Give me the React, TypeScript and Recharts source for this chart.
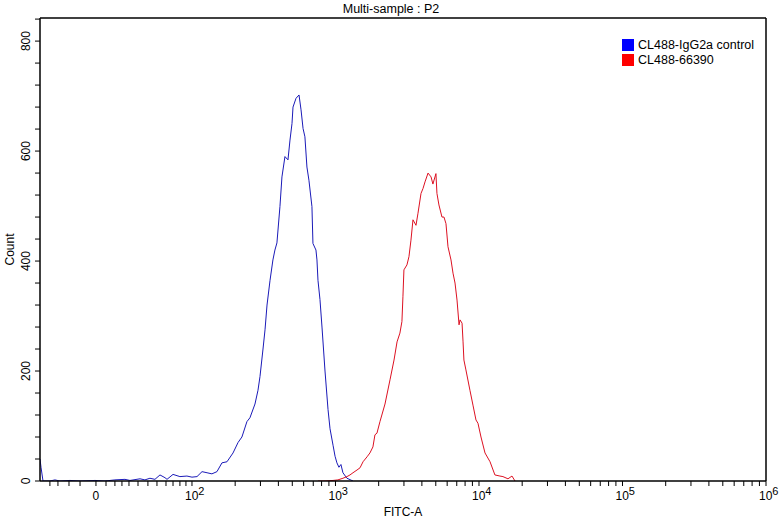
import React from 'react';
import { LineChart, Line, XAxis, YAxis } from 'recharts';

// FITC-A display positions in decade units (10^2 -> 2, 10^3 -> 3 ...); counts per bin
const blueX = [0.941, 0.948, 0.962, 1.010, 1.045, 1.080, 1.150, 1.220, 1.324, 1.394, 1.463, 1.533, 1.568, 1.638, 1.672, 1.707, 1.742, 1.777, 1.812, 1.826, 1.868, 1.916, 1.965, 2.000, 2.035, 2.070, 2.105, 2.139, 2.174, 2.209, 2.244, 2.286, 2.321, 2.348, 2.383, 2.404, 2.439, 2.460, 2.474, 2.495, 2.509, 2.523, 2.544, 2.564, 2.578, 2.592, 2.613, 2.627, 2.648, 2.669, 2.683, 2.697, 2.704, 2.725, 2.746, 2.760, 2.774, 2.787, 2.801, 2.815, 2.836, 2.843, 2.864, 2.871, 2.878, 2.892, 2.906, 2.927, 2.948, 2.962, 2.983, 2.997, 3.010, 3.024, 3.038, 3.052, 3.080, 3.122];
const blueY = [40, 25, 0, 0, 2, 0, 1, 0, 1, 0, 2, 3, 1, 4, 2, 5, 3, 11, 6, 3, 12, 8, 9, 7, 8, 17, 15, 13, 17, 33, 35, 51, 70, 80, 108, 115, 140, 165, 190, 240, 275, 320, 365, 402, 420, 433, 499, 553, 590, 584, 620, 650, 680, 696, 702, 675, 641, 626, 571, 547, 499, 432, 420, 402, 365, 330, 280, 200, 130, 95, 65, 45, 33, 25, 30, 15, 5, 0];

const redX = [2.878, 2.927, 2.983, 3.017, 3.052, 3.080, 3.101, 3.122, 3.150, 3.171, 3.192, 3.220, 3.240, 3.261, 3.275, 3.289, 3.310, 3.345, 3.380, 3.408, 3.429, 3.449, 3.463, 3.470, 3.477, 3.498, 3.512, 3.526, 3.540, 3.561, 3.575, 3.596, 3.610, 3.624, 3.645, 3.666, 3.679, 3.700, 3.707, 3.721, 3.742, 3.756, 3.770, 3.784, 3.805, 3.819, 3.833, 3.847, 3.861, 3.868, 3.882, 3.889, 3.895, 3.909, 3.937, 3.958, 3.979, 3.993, 4.014, 4.042, 4.077, 4.111, 4.146, 4.167, 4.202, 4.230, 4.251];
const redY = [0, 0, 1, 2, 5, 8, 11, 15, 20, 24, 35, 44, 51, 62, 84, 87, 108, 140, 184, 220, 253, 269, 290, 335, 384, 393, 408, 438, 475, 465, 487, 523, 532, 544, 560, 553, 540, 559, 523, 502, 480, 480, 468, 426, 402, 378, 360, 329, 284, 293, 287, 253, 220, 202, 165, 138, 111, 105, 80, 51, 35, 11, 9, 8, 4, 9, 0];

const seriesNames = ['CL488-IgG2a control', 'CL488-66390'];
const seriesColors = ['#1a1ab8', '#dd1122'];
const legendColors = ['#0000ff', '#ff0000'];

// axis ticks
const xMajorTicks = [1.331, 2, 3, 4, 5, 6];
const xMajorLabels = ['0', '2', '3', '4', '5', '6']; // '0' or exponent of 10
const xLinearMinorTicks = [1.010, 1.066, 1.143, 1.220, 1.401, 1.463, 1.512, 1.561, 1.624, 1.693, 1.756, 1.819, 1.868, 1.916, 1.958];
const xLogMinorMultipliers = [2, 3, 4, 5, 6, 7, 8, 9];
const xLogDecades = [2, 3, 4, 5];
const yTicks = [0, 40, 80, 120, 160, 200, 240, 280, 320, 360, 400, 440, 480, 520, 560, 600, 640, 680, 720, 760, 800, 840];
const yLabelTicks = [0, 200, 400, 600, 800];

const xDomain = [0.941, 6];
const yDomain = [0, 842];

const blueData = blueX.map((x, i) => ({ x, y: blueY[i] }));
const redData = redX.map((x, i) => ({ x, y: redY[i] }));

const xTicks = [
  ...xLinearMinorTicks,
  ...xMajorTicks,
  ...xLogDecades.flatMap((d) => xLogMinorMultipliers.map((m) => +(d + Math.log10(m)).toFixed(4))),
].sort((a, b) => a - b);

const FONT = '"Liberation Sans", Arial, sans-serif';

const XTick = (props: any) => {
  const { x, y, payload } = props;
  const idx = xMajorTicks.findIndex((t) => Math.abs(t - payload.value) < 1e-6);
  if (idx < 0) return null;
  const lab = xMajorLabels[idx];
  if (lab === '0') {
    return (
      <text x={x} y={y + 14} textAnchor="middle" fontSize={12} fontFamily={FONT} fill="#000">0</text>
    );
  }
  return (
    <text x={x - 7} y={y + 14} textAnchor="start" fontSize={12} fontFamily={FONT} fill="#000">
      10
      <tspan dy={-5} fontSize={11}>{lab}</tspan>
    </text>
  );
};

const YTick = (props: any) => {
  const { x, y, payload } = props;
  if (!yLabelTicks.includes(payload.value)) return null;
  const cx = x - 5;
  return (
    <text
      x={cx}
      y={y}
      transform={`rotate(-90, ${cx}, ${y})`}
      textAnchor="middle"
      fontSize={12}
      fontFamily={FONT}
      fill="#000"
    >
      {payload.value}
    </text>
  );
};

export default function App() {
  return (
    <div style={{ position: 'absolute', left: 0, top: 0, width: 782, height: 519, background: '#fff' }}>
      <div
        style={{
          position: 'absolute',
          left: 0,
          width: 782,
          top: 2,
          textAlign: 'center',
          fontFamily: FONT,
          fontSize: 12.5,
          color: '#000',
          lineHeight: '14px',
        }}
      >
        Multi-sample : P2
      </div>
      <div
        style={{
          position: 'absolute',
          left: 622,
          top: 38,
          fontFamily: FONT,
          fontSize: 12.5,
          color: '#000',
          zIndex: 2,
        }}
      >
        {seriesNames.map((n, i) => (
          <div key={n} style={{ display: 'flex', alignItems: 'center', height: 14.5 }}>
            <span style={{ display: 'inline-block', width: 12, height: 12, background: legendColors[i], marginRight: 4 }} />
            <span>{n}</span>
          </div>
        ))}
      </div>
      <LineChart width={782} height={519} margin={{ top: 17, right: 15, left: 0, bottom: 0 }}>
        <XAxis
          xAxisId="main"
          dataKey="x"
          type="number"
          domain={xDomain}
          ticks={xTicks}
          interval={0}
          allowDataOverflow
          height={38}
          axisLine={{ stroke: '#000', strokeWidth: 1.5 }}
          tickLine={{ stroke: '#000' }}
          tickSize={5}
          tickMargin={0}
          tick={<XTick />}
          label={{ value: 'FITC-A', position: 'insideBottom', offset: 3, fontSize: 12, fontFamily: FONT, fill: '#000' }}
        />
        <XAxis xAxisId="top" orientation="top" type="number" domain={xDomain} height={1} tick={false} tickLine={false} axisLine={{ stroke: '#000', strokeWidth: 1.5 }} />
        <YAxis
          yAxisId="main"
          type="number"
          domain={yDomain}
          ticks={yTicks}
          interval={0}
          allowDataOverflow
          width={40}
          axisLine={{ stroke: '#000', strokeWidth: 1.5 }}
          tickLine={{ stroke: '#000' }}
          tickSize={5}
          tickMargin={0}
          tick={<YTick />}
          label={{ value: 'Count', angle: -90, position: 'insideLeft', offset: 10, fontSize: 12, fontFamily: FONT, fill: '#000', style: { textAnchor: 'middle' } }}
        />
        <YAxis yAxisId="right" orientation="right" type="number" domain={yDomain} width={1} tick={false} tickLine={false} axisLine={{ stroke: '#000', strokeWidth: 1.5 }} />
        <Line
          xAxisId="main"
          yAxisId="main"
          data={blueData}
          dataKey="y"
          name={seriesNames[0]}
          type="linear"
          stroke={seriesColors[0]}
          strokeWidth={1}
          dot={false}
          activeDot={false}
          isAnimationActive={false}
        />
        <Line
          xAxisId="main"
          yAxisId="main"
          data={redData}
          dataKey="y"
          name={seriesNames[1]}
          type="linear"
          stroke={seriesColors[1]}
          strokeWidth={1}
          dot={false}
          activeDot={false}
          isAnimationActive={false}
        />
      </LineChart>
    </div>
  );
}
